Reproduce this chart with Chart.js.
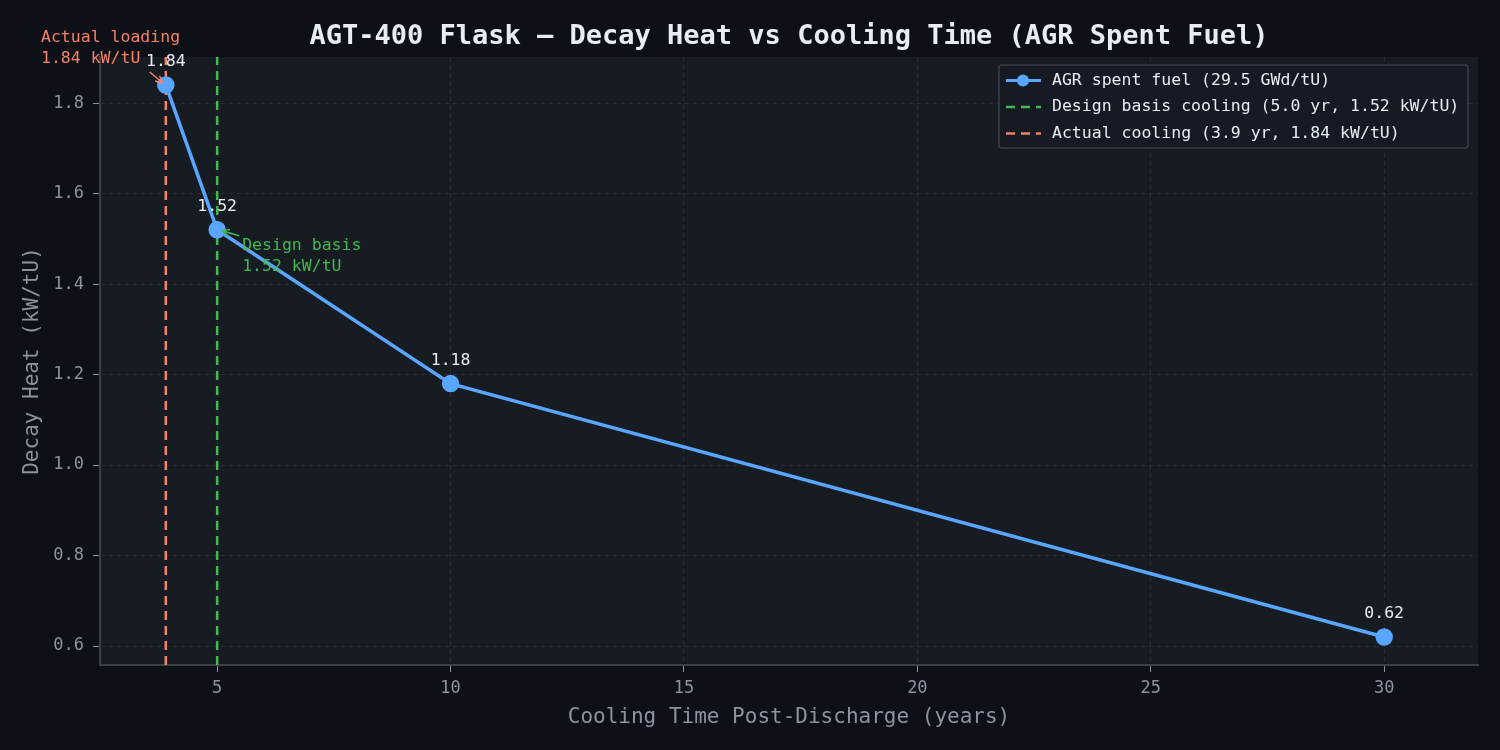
<!DOCTYPE html>
<html>
<head>
<meta charset="utf-8">
<script src="https://cdn.jsdelivr.net/npm/chart.js@4"></script>
<style>
  html, body { margin: 0; padding: 0; background: #0d1017; }
  #wrap { width: 1500px; height: 750px; }
</style>
</head>
<body>
<div id="wrap"><canvas id="mainChart" width="1500" height="750"></canvas></div>
<script>
// --- data ---
const coolingYears = [3.9, 5, 10, 30];
const decayHeat = [1.84, 1.52, 1.18, 0.62];
const xTicks = [5, 10, 15, 20, 25, 30];
const yTicks = [0.6, 0.8, 1.0, 1.2, 1.4, 1.6, 1.8];
const designCooling = 5.0;
const actualCooling = 3.9;
const xRange = [2.49, 32.01];
const yRange = [0.558, 1.902];

const FONT = "'DejaVu Sans Mono', monospace";
const BLUE = '#58a6ff';
const GREEN = '#3fb950';
const CORAL = '#f78166';
const TEXT = '#e6edf3';
const MUTED = '#8b949e';

const legendItems = [
  { label: 'AGR spent fuel (29.5 GWd/tU)', color: BLUE, marker: true },
  { label: 'Design basis cooling (5.0 yr, 1.52 kW/tU)', color: GREEN, dash: true },
  { label: 'Actual cooling (3.9 yr, 1.84 kW/tU)', color: CORAL, dash: true }
];

// background + title
const backdrop = {
  id: 'backdrop',
  beforeDraw(chart) {
    const { ctx, chartArea: a } = chart;
    ctx.save();
    ctx.fillStyle = '#0d1017';
    ctx.fillRect(0, 0, chart.width, chart.height);
    ctx.fillStyle = '#171b22';
    ctx.fillRect(a.left, a.top, a.right - a.left, a.bottom - a.top);
    ctx.fillStyle = TEXT;
    ctx.font = 'bold 27px ' + FONT;
    ctx.textAlign = 'center';
    ctx.textBaseline = 'middle';
    ctx.fillText('AGT-400 Flask — Decay Heat vs Cooling Time (AGR Spent Fuel)', (a.left + a.right) / 2, 37);
    ctx.restore();
  }
};

function arrow(ctx, x1, y1, x2, y2, color) {
  ctx.strokeStyle = color;
  ctx.lineWidth = 1.5;
  ctx.beginPath();
  ctx.moveTo(x1, y1);
  ctx.lineTo(x2, y2);
  const ang = Math.atan2(y2 - y1, x2 - x1);
  ctx.moveTo(x2 - 8 * Math.cos(ang - 0.45), y2 - 8 * Math.sin(ang - 0.45));
  ctx.lineTo(x2, y2);
  ctx.lineTo(x2 - 8 * Math.cos(ang + 0.45), y2 - 8 * Math.sin(ang + 0.45));
  ctx.stroke();
}

// value labels, annotations, legend
const overlay = {
  id: 'overlay',
  afterDatasetsDraw(chart) {
    const { ctx, scales: { x, y } } = chart;
    ctx.save();
    ctx.font = '16.5px ' + FONT;
    ctx.textAlign = 'center';
    ctx.textBaseline = 'middle';
    ctx.fillStyle = TEXT;
    coolingYears.forEach((c, i) => {
      ctx.fillText(decayHeat[i].toFixed(2), x.getPixelForValue(c), y.getPixelForValue(decayHeat[i]) - 23);
    });

    // actual loading note
    const ax = x.getPixelForValue(actualCooling), ay = y.getPixelForValue(1.84);
    ctx.textAlign = 'left';
    ctx.fillStyle = CORAL;
    ctx.fillText('Actual loading', 41, 38);
    ctx.fillText('1.84 kW/tU', 41, 59);
    arrow(ctx, ax - 16, ay - 13, ax - 3, ay - 2, CORAL);

    // design basis note
    const dx = x.getPixelForValue(designCooling), dy = y.getPixelForValue(1.52);
    ctx.fillStyle = GREEN;
    ctx.fillText('Design basis', dx + 25, dy + 16);
    ctx.fillText('1.52 kW/tU', dx + 25, dy + 37);
    arrow(ctx, dx + 22, dy + 6, dx + 5, dy + 1, GREEN);

    // legend box
    const lx = 999, ly = 65, lw = 469, lh = 83;
    ctx.fillStyle = 'rgba(22,27,34,0.9)';
    ctx.strokeStyle = '#3a3f47';
    ctx.lineWidth = 1.5;
    ctx.beginPath();
    ctx.roundRect(lx, ly, lw, lh, 3);
    ctx.fill();
    ctx.stroke();
    legendItems.forEach((it, i) => {
      const cy = ly + 15.5 + i * 26.5;
      ctx.strokeStyle = it.color;
      ctx.lineWidth = it.marker ? 3 : 2.5;
      ctx.setLineDash(it.dash ? [9, 6] : []);
      ctx.beginPath();
      ctx.moveTo(lx + 7, cy);
      ctx.lineTo(lx + 42, cy);
      ctx.stroke();
      ctx.setLineDash([]);
      if (it.marker) {
        ctx.fillStyle = it.color;
        ctx.beginPath();
        ctx.arc(lx + 24, cy, 6, 0, Math.PI * 2);
        ctx.fill();
      }
      ctx.fillStyle = TEXT;
      ctx.font = '16.5px ' + FONT;
      ctx.textAlign = 'left';
      ctx.fillText(it.label, lx + 53, cy);
    });
    ctx.restore();
  }
};

const gridStyle = {
  color: 'rgba(255,255,255,0.08)',
  tickColor: MUTED,
  tickLength: 7,
  tickBorderDash: [],
  drawTicks: true
};
const borderStyle = { color: '#3a3f47', width: 2, dash: [4, 4] };

new Chart(document.getElementById('mainChart'), {
  type: 'line',
  data: {
    datasets: [
      {
        label: 'AGR spent fuel',
        data: coolingYears.map((c, i) => ({ x: c, y: decayHeat[i] })),
        borderColor: BLUE,
        backgroundColor: BLUE,
        borderWidth: 3.5,
        pointRadius: 7,
        pointHoverRadius: 7,
        order: 0
      },
      {
        label: 'Design basis',
        data: [{ x: designCooling, y: yRange[0] }, { x: designCooling, y: yRange[1] }],
        borderColor: GREEN,
        borderWidth: 2.5,
        borderDash: [9, 6],
        pointRadius: 0,
        order: 1
      },
      {
        label: 'Actual',
        data: [{ x: actualCooling, y: yRange[0] }, { x: actualCooling, y: yRange[1] }],
        borderColor: CORAL,
        borderWidth: 2.5,
        borderDash: [9, 6],
        pointRadius: 0,
        order: 1
      }
    ]
  },
  options: {
    responsive: false,
    animation: false,
    layout: { padding: { top: 57, right: 22, left: 16, bottom: 20 } },
    plugins: { legend: { display: false }, tooltip: { enabled: false } },
    scales: {
      x: {
        type: 'linear',
        min: xRange[0],
        max: xRange[1],
        afterBuildTicks: s => { s.ticks = xTicks.map(v => ({ value: v })); },
        afterFit: s => { s.height = 65; },
        grid: gridStyle,
        border: borderStyle,
        ticks: { color: MUTED, font: { family: FONT, size: 17 }, padding: 6 },
        title: { display: true, text: 'Cooling Time Post-Discharge (years)', color: MUTED, font: { family: FONT, size: 21 }, padding: { top: 2, bottom: 0 } }
      },
      y: {
        type: 'linear',
        min: yRange[0],
        max: yRange[1],
        afterBuildTicks: s => { s.ticks = yTicks.map(v => ({ value: v })); },
        afterFit: s => { s.width = 84; },
        grid: gridStyle,
        border: borderStyle,
        ticks: { color: MUTED, font: { family: FONT, size: 17 }, padding: 9, callback: v => v.toFixed(1) },
        title: { display: true, text: 'Decay Heat (kW/tU)', color: MUTED, font: { family: FONT, size: 21 }, padding: { bottom: 4 } }
      }
    }
  },
  plugins: [backdrop, overlay]
});
</script>
</body>
</html>
